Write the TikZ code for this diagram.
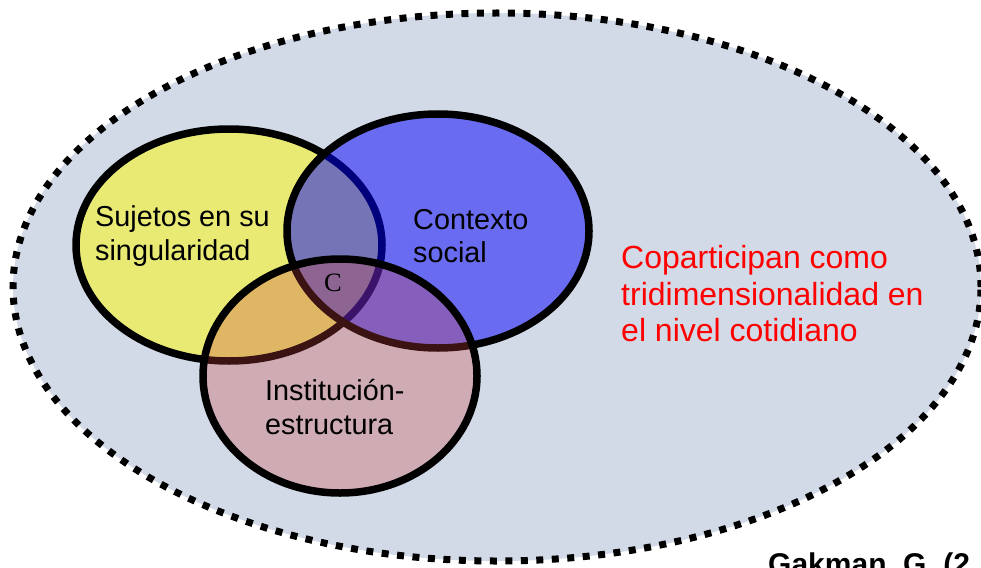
\documentclass[tikz,border=0pt]{standalone}
\usepackage{fontspec}
\setmainfont{Liberation Sans}
\newfontfamily\serifC{Liberation Serif}
\usetikzlibrary{shapes.geometric,positioning}
\definecolor{fondo}{RGB}{211,218,231}
\definecolor{amarillo}{RGB}{233,234,115}
\definecolor{azul}{RGB}{0,0,249}
\definecolor{rosa}{RGB}{200,65,65}

\begin{document}
\begin{tikzpicture}[x=1pt,y=-1pt,
  set/.style={ellipse,draw=black,line width=7.5pt,inner sep=0pt},
  lbl/.style={align=left,inner sep=0pt,anchor=west,font=\fontsize{28.8}{33.5}\selectfont}]

  \useasboundingbox (0,0) rectangle (981,567);

  % dotted frame
  \node[ellipse,fill=fondo,draw=black,line width=7pt,dash pattern=on 7pt off 8.5pt,
        inner sep=0pt,minimum width=968pt,minimum height=548pt] (amb) at (497,287) {};

  % the three sets
  \node[set,fill=amarillo,minimum width=306pt,minimum height=232pt] (suj) at (229,245) {};
  \node[set,fill=azul,fill opacity=0.5,minimum width=302pt,minimum height=234pt] (ctx) at (438,231) {};
  \node[set,fill=rosa,fill opacity=0.3,minimum width=274pt,minimum height=234pt] (ins) at (340,376) {};

  \node[lbl] (sujT) at (95,236) {Sujetos en su\\singularidad};
  \node[lbl] (ctxT) at (413,236) {Contexto\\social};
  \node[lbl] (insT) at (265,407) {Institución-\\estructura};
  \node[inner sep=0pt,font=\serifC\fontsize{26.5}{26.5}\selectfont] (c) at (333,283) {C};

  \node[lbl,text=red,font=\fontsize{32}{36.5}\selectfont] (cop) at (621,294)
    {Coparticipan como\\tridimensionalidad en\\el nivel cotidiano};

  \node[anchor=base west,inner sep=0pt,font=\bfseries\fontsize{30}{34}\selectfont] (ref) at (768,574) {Gakman, G. (2};

\end{tikzpicture}
\end{document}
